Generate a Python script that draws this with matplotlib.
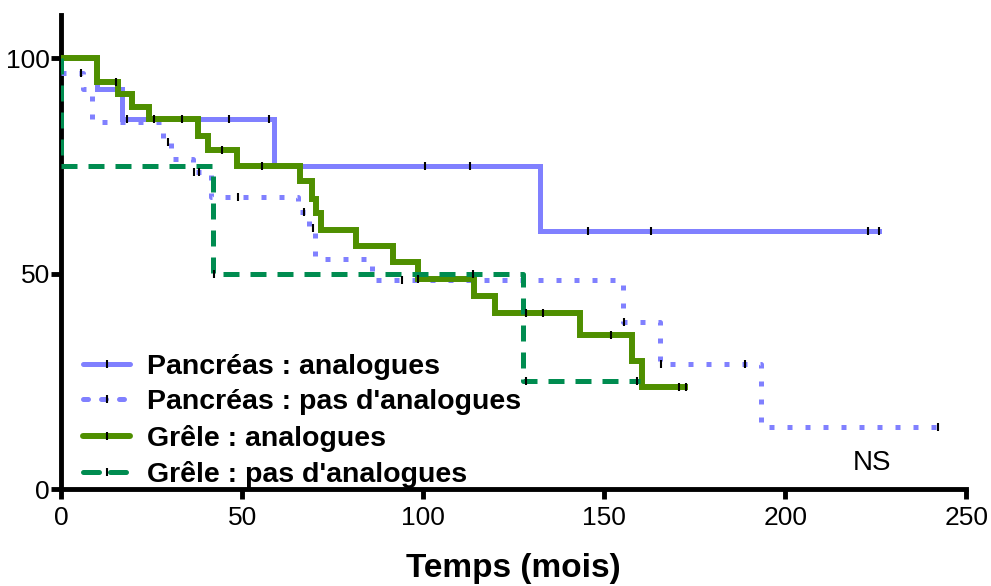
import matplotlib.pyplot as plt
from matplotlib.lines import Line2D
import numpy as np

plt.rcParams['font.family'] = ['Liberation Sans', 'DejaVu Sans']

# Pancréas : analogues
panc_ana_t = [0, 10, 16.8, 58.8, 132.3, 226]
panc_ana_s = [100, 92.8, 85.8, 75.1, 60, 60]
panc_ana_cens = [18.2, 25.7, 33.3, 46.4, 57.5, 100.5, 113, 145.6, 162.9, 223, 226]

# Pancréas : pas d'analogues
panc_pas_t = [0, 6, 8.5, 28.2, 30.5, 36.5, 41.5, 65.5, 68.5, 70.2, 86, 155.2, 165.5, 193.2, 242]
panc_pas_s = [96.5, 92.8, 85.3, 80.5, 76.7, 73.5, 67.9, 64.3, 60.7, 53.5, 48.5, 38.7, 29, 14.5, 14.5]
panc_pas_cens = [5.4, 29.6, 36.6, 38, 49, 67.1, 69.7, 94.1, 155.6, 165.7, 189, 242.2]

# Grêle : analogues
grele_ana_t = [0, 9.9, 15.7, 19.5, 24.3, 37.9, 40.6, 48.5, 66, 69.2, 70.3, 71.7,
               81.4, 91.6, 98.6, 114, 119.9, 143.4, 157.6, 160.4, 172.4]
grele_ana_s = [100, 94.4, 91.6, 88.6, 85.8, 81.9, 78.8, 75.1, 71.5, 67.4, 64, 60.2,
               56.4, 52.6, 48.8, 44.7, 40.9, 35.8, 29.8, 23.8, 23.8]
grele_ana_cens = [15.1, 44.4, 55.6, 98.7, 128.4, 133, 151.8, 170.8, 172.6]

# Grêle : pas d'analogues
grele_pas_t = [0, 0, 42, 127.6, 160]
grele_pas_s = [100, 75, 50, 25, 25]
grele_pas_cens = [42.3, 113.7, 128.4, 159.2]

c_blue = '#8080ff'
c_green = '#4f8f00'
c_dgreen = '#008c50'


def surv_at(t, times, surv):
    idx = np.searchsorted(times, t, side='right') - 1
    return surv[max(idx, 0)]


fig = plt.figure(figsize=(9.91, 5.86), dpi=100)
ax = fig.add_axes([0.0616, 0.1655, 0.9134, 0.8085])

series = [
    (panc_ana_t, panc_ana_s, panc_ana_cens, c_blue, '-', 3.6, "Pancréas : analogues"),
    (panc_pas_t, panc_pas_s, panc_pas_cens, c_blue, (0, (1, 2.6)), 3.6, "Pancréas : pas d'analogues"),
    (grele_ana_t, grele_ana_s, grele_ana_cens, c_green, '-', 4.3, "Grêle : analogues"),
    (grele_pas_t, grele_pas_s, grele_pas_cens, c_dgreen, (0, (3.2, 2.2)), 3.6, "Grêle : pas d'analogues"),
]

handles = []
for i, (t, s, cens, col, ls, lw, lab) in enumerate(series):
    ax.step(t, s, where='post', color=col, ls=ls, lw=lw, zorder=2 + i,
            dash_capstyle='butt', solid_joinstyle='miter')
    cy = [surv_at(c, t, s) for c in cens]
    ax.plot(cens, cy, ls='none', marker='|', color='k', ms=6, mew=1.5, zorder=10)
    handles.append(Line2D([], [], color=col, ls=ls, lw=lw, marker='|',
                          markeredgecolor='k', ms=6, mew=1.5, label=lab,
                          solid_capstyle='round', dash_capstyle='round'))

ax.set_xlim(0, 250)
ax.set_ylim(0, 110)
ax.set_xticks([0, 50, 100, 150, 200, 250])
ax.set_yticks([0, 50, 100])
for sp in ['top', 'right']:
    ax.spines[sp].set_visible(False)
for sp in ['left', 'bottom']:
    ax.spines[sp].set_linewidth(3.5)
ax.tick_params(axis='both', width=3.5, length=7, labelsize=19)
ax.tick_params(axis='x', pad=5)
ax.tick_params(axis='y', pad=1)
ax.set_xlabel('Temps (mois)', fontsize=24, fontweight='bold', labelpad=17)

ax.text(224, 6, 'NS', fontsize=20, ha='center', va='center')

leg = ax.legend(handles=handles, loc='lower left', bbox_to_anchor=(-0.004, -0.052),
                frameon=False, handlelength=1.65, handletextpad=0.6,
                labelspacing=0.33, prop={'weight': 'bold', 'size': 20.5})

fig.savefig('out.png', dpi=100)
